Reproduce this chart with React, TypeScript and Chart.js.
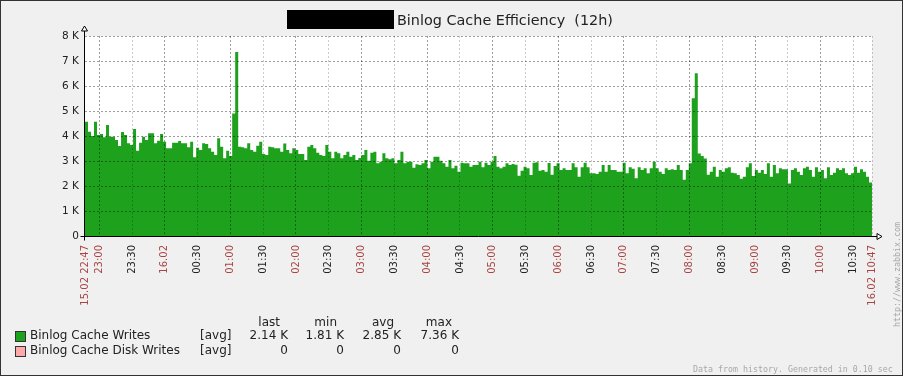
import React, { useEffect, useRef } from 'react';
import { Chart, registerables } from 'chart.js';

Chart.register(...registerables);
Chart.defaults.font.family = "'DejaVu Sans', sans-serif";

// ---- data (values in thousands) ----
const SPAN_MINUTES = 720; // 15.02 22:47 -> 16.02 10:47

const cacheWritesK: number[] = [
  4.57, 4.17, 4.0, 4.57, 4.04, 4.08, 3.95, 4.44, 3.97, 3.97,
  3.84, 3.6, 4.16, 4.04, 3.71, 3.64, 4.28, 3.41, 3.73, 3.97,
  3.84, 4.11, 4.11, 3.71, 3.81, 4.08, 3.77, 3.51, 3.51, 3.73,
  3.73, 3.8, 3.71, 3.71, 3.55, 3.77, 3.15, 3.53, 3.44, 3.71,
  3.68, 3.51, 3.37, 3.24, 3.91, 3.57, 3.11, 3.41, 3.2, 4.9,
  7.36, 3.57, 3.55, 3.51, 3.71, 3.44, 3.37, 3.61, 3.77, 3.28,
  3.24, 3.57, 3.55, 3.51, 3.51, 3.37,
  3.7, 3.44, 3.31, 3.51, 3.44, 3.28, 3.28, 3.04, 3.57, 3.64,
  3.51, 3.33, 3.24, 3.2, 3.64, 3.37, 3.11, 3.37, 3.31, 3.11,
  3.24, 3.37, 3.17, 3.24, 3.04, 3.12, 3.24, 3.44, 3.01, 3.33,
  3.37, 2.91, 2.97, 3.31, 3.11, 3.07, 3.11, 2.91, 3.04, 3.37,
  2.91, 2.97, 2.97, 2.73, 2.87, 2.84, 2.91, 3.04, 2.71, 2.97,
  3.17, 3.17, 3.01, 2.91, 2.77, 3.04, 2.71, 2.81, 2.57, 2.93,
  2.91, 2.91, 2.77, 2.84, 2.84, 2.97,
  2.75, 2.93, 2.84, 2.97, 3.2, 2.77, 2.71, 2.77, 2.91, 2.84,
  2.88, 2.85, 2.41, 2.61, 2.77, 2.71, 2.44, 2.93, 2.95, 2.61,
  2.64, 2.57, 2.92, 2.45, 2.8, 2.91, 2.64, 2.71, 2.64, 2.64,
  2.91, 2.75, 2.37, 2.75, 2.93, 2.75, 2.51, 2.51, 2.48, 2.57,
  2.84, 2.57, 2.84, 2.64, 2.64, 2.57, 2.57, 2.93, 2.51, 2.75,
  2.69, 2.31, 2.75, 2.64, 2.71, 2.51, 2.71, 2.97, 2.71, 2.57,
  2.48, 2.71, 2.64, 2.67, 2.64, 2.84,
  2.64, 2.25, 2.64, 2.91, 5.51, 6.51, 3.3, 3.2, 3.1, 2.45,
  2.57, 2.77, 2.37, 2.64, 2.57, 2.71, 2.75, 2.53, 2.51, 2.44,
  2.29, 2.37, 2.75, 2.91, 2.4, 2.64, 2.53, 2.64, 2.48, 2.91,
  2.37, 2.84, 2.51, 2.71, 2.67, 2.67, 2.1, 2.64, 2.71, 2.57,
  2.44, 2.71, 2.77, 2.64, 2.37, 2.75, 2.57, 2.64, 2.31, 2.75,
  2.44, 2.53, 2.71, 2.64, 2.71, 2.51, 2.44, 2.51, 2.77, 2.53,
  2.67, 2.57, 2.37, 2.14,
];
const diskWritesK: number[] = cacheWritesK.map(() => 0);

const xTickMinutes = [0, 13, 43, 73, 103, 133, 163, 193, 223, 253, 283, 313, 343, 373, 403, 433, 463, 493, 523, 553, 583, 613, 643, 673, 703, 720];
const xTickLabels = ['15.02 22:47', '23:00', '23:30', '16.02', '00:30', '01:00', '01:30', '02:00', '02:30', '03:00', '03:30', '04:00', '04:30', '05:00', '05:30', '06:00', '06:30', '07:00', '07:30', '08:00', '08:30', '09:00', '09:30', '10:00', '10:30', '16.02 10:47'];
const yTickValues = [0, 1, 2, 3, 4, 5, 6, 7, 8];
const yTickLabels = ['0', '1 K', '2 K', '3 K', '4 K', '5 K', '6 K', '7 K', '8 K'];

const legendNames = ['Binlog Cache Writes', 'Binlog Cache Disk Writes'];
const legendFunc = ['[avg]', '[avg]'];
const legendLast = ['2.14 K', '0'];
const legendMin = ['1.81 K', '0'];
const legendAvg = ['2.85 K', '0'];
const legendMax = ['7.36 K', '0'];
const seriesColors = ['#1ea21e', '#ffaaaa'];

const GREEN = seriesColors[0];
const RED_LABEL = '#aa4444';

function toPoints(vals: number[]) {
  const step = SPAN_MINUTES / vals.length;
  const pts = vals.map((v, i) => ({ x: i * step, y: v }));
  pts.push({ x: SPAN_MINUTES, y: vals[vals.length - 1] });
  return pts;
}

const plotBgPlugin = {
  id: 'zbxPlotBg',
  beforeDraw(chart: any) {
    const { ctx, chartArea } = chart;
    ctx.save();
    ctx.fillStyle = '#ffffff';
    ctx.fillRect(chartArea.left, chartArea.top, chartArea.right - chartArea.left, chartArea.bottom - chartArea.top);
    ctx.restore();
  },
};

const axesPlugin = {
  id: 'zbxAxes',
  afterDraw(chart: any) {
    const { ctx, chartArea } = chart;
    const { left, right, top, bottom } = chartArea;
    const ax = Math.round(left) - 0.5;
    const ay = Math.round(bottom) + 0.5;
    ctx.save();
    ctx.strokeStyle = '#000';
    ctx.lineWidth = 1;
    ctx.beginPath();
    ctx.moveTo(ax, ay + 4);
    ctx.lineTo(ax, top - 5);
    ctx.moveTo(ax - 4, ay);
    ctx.lineTo(right + 5, ay);
    ctx.stroke();
    ctx.fillStyle = '#fff';
    ctx.beginPath();
    ctx.moveTo(ax, top - 10);
    ctx.lineTo(ax - 3, top - 5);
    ctx.lineTo(ax + 3, top - 5);
    ctx.closePath();
    ctx.fill();
    ctx.stroke();
    ctx.beginPath();
    ctx.moveTo(right + 10, ay);
    ctx.lineTo(right + 5, ay - 3);
    ctx.lineTo(right + 5, ay + 3);
    ctx.closePath();
    ctx.fill();
    ctx.stroke();
    ctx.restore();
  },
};

function isHalfHour(label: string) {
  return label.endsWith(':30');
}

export default function App() {
  const ref = useRef<HTMLCanvasElement | null>(null);

  useEffect(() => {
    if (!ref.current) return;
    const chart = new Chart(ref.current, {
      type: 'line',
      data: {
        datasets: [
          {
            label: legendNames[0],
            data: toPoints(cacheWritesK),
            stepped: true,
            fill: 'origin',
            backgroundColor: GREEN,
            borderColor: 'rgba(0,0,0,0)',
            borderWidth: 0,
            pointRadius: 0,
          },
          {
            label: legendNames[1],
            data: toPoints(diskWritesK),
            stepped: true,
            fill: false,
            backgroundColor: seriesColors[1],
            borderColor: 'rgba(0,0,0,0)',
            borderWidth: 0,
            pointRadius: 0,
          },
        ],
      } as any,
      options: {
        animation: false,
        responsive: false,
        devicePixelRatio: 1,
        events: [],
        layout: { padding: { left: 0, top: 36, right: 31, bottom: 0 } },
        plugins: {
          legend: { display: false },
          title: { display: false },
          tooltip: { enabled: false },
        },
        scales: {
          x: {
            type: 'linear',
            min: 0,
            max: SPAN_MINUTES,
            afterBuildTicks: (s: any) => {
              s.ticks = xTickMinutes.map((v) => ({ value: v }));
            },
            afterFit: (s: any) => {
              s.height = 140;
            },
            grid: {
              z: 1,
              drawTicks: false,
              lineWidth: 1,
              color: (c: any) => {
                const v = c.tick ? c.tick.value : -1;
                const idx = xTickMinutes.indexOf(v);
                if (idx <= 0) return 'rgba(0,0,0,0)';
                const lab = xTickLabels[idx];
                if (idx === xTickMinutes.length - 1 || isHalfHour(lab)) return 'rgba(0,0,0,0.2)';
                return 'rgba(0,0,0,0.38)';
              },
            },
            border: { display: false, dash: [2, 2] },
            ticks: {
              autoSkip: false,
              minRotation: 90,
              maxRotation: 90,
              padding: 9,
              font: { size: 10 },
              color: (c: any) => {
                const v = c.tick ? c.tick.value : -1;
                const idx = xTickMinutes.indexOf(v);
                const lab = xTickLabels[idx] || '';
                return isHalfHour(lab) ? '#222' : RED_LABEL;
              },
              callback: (v: any) => {
                const idx = xTickMinutes.indexOf(Number(v));
                return idx >= 0 ? xTickLabels[idx] : '';
              },
            },
          },
          y: {
            type: 'linear',
            min: 0,
            max: 8,
            afterBuildTicks: (s: any) => {
              s.ticks = yTickValues.map((v) => ({ value: v }));
            },
            afterFit: (s: any) => {
              s.width = 85;
            },
            grid: {
              z: 1,
              drawTicks: false,
              lineWidth: 1,
              color: (c: any) => {
                const v = c.tick ? c.tick.value : -1;
                return v === 0 ? 'rgba(0,0,0,0)' : 'rgba(0,0,0,0.38)';
              },
            },
            border: { display: false, dash: [2, 2] },
            ticks: {
              padding: 6,
              color: '#222',
              font: { size: 10.5 },
              callback: (v: any) => {
                const idx = yTickValues.indexOf(Number(v));
                return idx >= 0 ? yTickLabels[idx] : '';
              },
            },
          },
        },
      } as any,
      plugins: [plotBgPlugin, axesPlugin],
    });
    return () => chart.destroy();
  }, []);

  const font = "'DejaVu Sans', sans-serif";
  const mono = "'DejaVu Sans Mono', monospace";
  const rowTops = [328, 343];
  const abs = (s: React.CSSProperties): React.CSSProperties => ({ position: 'absolute', whiteSpace: 'pre', ...s });
  const cell = (text: string, rightEdge: number, top: number, key: string) => (
    <div key={key} style={abs({ right: 903 - rightEdge, top, fontFamily: font, fontSize: 12, lineHeight: '14px', color: '#222', textAlign: 'right' })}>{text}</div>
  );

  return (
    <div style={{ position: 'absolute', left: 0, top: 0, width: 903, height: 376, background: '#f0f0f0', overflow: 'hidden' }}>
      <canvas ref={ref} width={903} height={376} style={{ position: 'absolute', left: 0, top: 0, width: 903, height: 376 }} />
      <div style={abs({ left: 287, top: 10, width: 107, height: 19, background: '#000' })} />
      <div style={abs({ left: 397, top: 12, fontFamily: font, fontSize: 14.4, lineHeight: '16px', color: '#222' })}>Binlog Cache Efficiency  (12h)</div>
      {cell('last', 280, 315, 'h1')}
      {cell('min', 337, 315, 'h2')}
      {cell('avg', 394, 315, 'h3')}
      {cell('max', 452, 315, 'h4')}
      {legendNames.map((name, i) => (
        <React.Fragment key={name}>
          <div style={abs({ left: 15, top: rowTops[i] + 3, width: 11, height: 11, boxSizing: 'border-box', border: '1px solid #333', background: seriesColors[i] })} />
          <div style={abs({ left: 30, top: rowTops[i], fontFamily: font, fontSize: 12, lineHeight: '14px', color: '#222' })}>{name}</div>
          <div style={abs({ left: 200, top: rowTops[i], fontFamily: font, fontSize: 12, lineHeight: '14px', color: '#222' })}>{legendFunc[i]}</div>
          {cell(legendLast[i], 288, rowTops[i], 'l' + i)}
          {cell(legendMin[i], 344, rowTops[i], 'n' + i)}
          {cell(legendAvg[i], 401, rowTops[i], 'a' + i)}
          {cell(legendMax[i], 459, rowTops[i], 'm' + i)}
        </React.Fragment>
      ))}
      <div style={abs({ left: 893, top: 327, transformOrigin: '0 0', transform: 'rotate(-90deg)', fontFamily: mono, fontSize: 8.3, lineHeight: '9px', color: '#a8a8a8' })}>http://www.zabbix.com</div>
      <div style={abs({ left: 693, top: 364, fontFamily: mono, fontSize: 8.3, lineHeight: '10px', color: '#a8a8a8' })}>Data from history. Generated in 0.10 sec</div>
      <div style={{ position: 'absolute', left: 0, top: 0, width: 903, height: 376, boxSizing: 'border-box', border: '1px solid #333', pointerEvents: 'none' }} />
    </div>
  );
}
